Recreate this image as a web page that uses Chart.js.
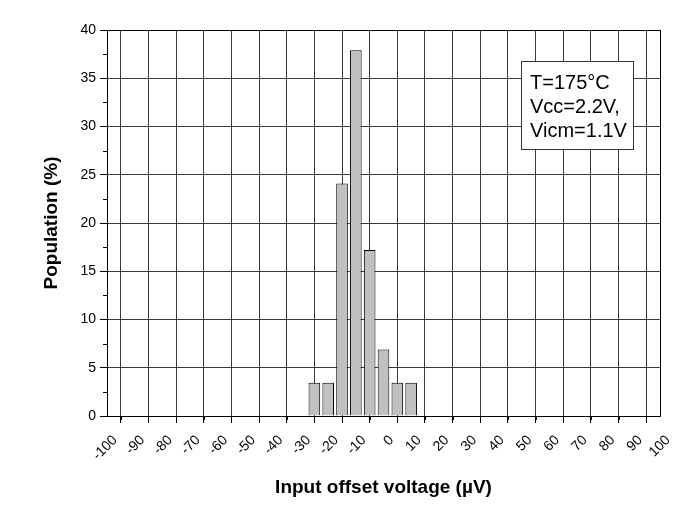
<!DOCTYPE html>
<html>
<head>
<meta charset="utf-8">
<script src="https://cdn.jsdelivr.net/npm/chart.js@4/dist/chart.umd.min.js"></script>
<style>
  html, body { margin: 0; padding: 0; background: #fff; }
  #wrap { width: 700px; height: 514px; }
</style>
</head>
<body>
<div id="wrap"><canvas id="chart" width="700" height="514"></canvas></div>
<script>
// histogram data
const binCenters = [-25, -20, -15, -10, -5, 0, 5, 10];
const population = [3.45, 3.45, 24.1, 37.9, 17.2, 6.9, 3.45, 3.45];
const noteLines = ["T=175°C", "Vcc=2.2V,", "Vicm=1.1V"];

const FONT = "'Liberation Sans', Arial, sans-serif";

// minor ticks + closing frame + condition box
const extras = {
  id: "extras",
  afterDraw(chart) {
    const ctx = chart.ctx;
    const a = chart.chartArea;
    const xs = chart.scales.x, ys = chart.scales.y;
    ctx.save();
    ctx.strokeStyle = "#000";
    ctx.lineWidth = 1;
    ctx.beginPath();
    for (let v = -95; v < 100; v += 10) {
      const px = Math.round(xs.getPixelForValue(v)) + 0.5;
      ctx.moveTo(px, a.bottom);
      ctx.lineTo(px, a.bottom + 4);
    }
    for (let v = 2.5; v < 40; v += 5) {
      const py = Math.round(ys.getPixelForValue(v)) + 0.5;
      ctx.moveTo(a.left, py);
      ctx.lineTo(a.left - 4, py);
    }
    ctx.stroke();
    ctx.strokeRect(Math.round(a.left) + 0.5, Math.round(a.top) + 0.5,
      Math.round(a.right - a.left), Math.round(a.bottom - a.top));

    // condition box
    ctx.fillStyle = "#fff";
    ctx.fillRect(521, 61, 112, 88);
    ctx.strokeStyle = "#333";
    ctx.strokeRect(521.5, 61.5, 112, 88);
    ctx.fillStyle = "#000";
    ctx.font = "20px " + FONT;
    ctx.textBaseline = "middle";
    noteLines.forEach((t, i) => ctx.fillText(t, 530, 83 + i * 24));
    ctx.restore();
  }
};

new Chart(document.getElementById("chart"), {
  type: "bar",
  data: {
    datasets: [{
      data: binCenters.map((x, i) => ({ x: x, y: population[i] })),
      backgroundColor: "#c0c0c0",
      borderColor: "#000",
      borderWidth: 1,
      barPercentage: 0.84,
      categoryPercentage: 1
    }]
  },
  options: {
    responsive: false,
    animation: false,
    layout: { padding: { top: 30, right: 40, left: 0, bottom: 0 } },
    plugins: { legend: { display: false }, tooltip: { enabled: false } },
    scales: {
      x: {
        type: "linear",
        min: -100, max: 100,
        offset: false,
        afterFit(s) { s.height = 98; },
        grid: { color: "#3a3a3a", tickColor: "#000", tickLength: 7, lineWidth: 1 },
        border: { color: "#000" },
        ticks: {
          stepSize: 10,
          autoSkip: false,
          minRotation: 45, maxRotation: 45,
          padding: 9,
          labelOffset: 8,
          color: "#000",
          font: { family: FONT, size: 14 }
        },
        title: {
          display: true,
          text: "Input offset voltage (µV)",
          color: "#000",
          font: { family: FONT, size: 19, weight: "bold" },
          padding: { top: 0, bottom: 15 }
        }
      },
      y: {
        min: 0, max: 40,
        afterFit(s) { s.width = 107; },
        grid: { color: "#3a3a3a", tickColor: "#000", tickLength: 7, lineWidth: 1 },
        border: { color: "#000" },
        ticks: {
          stepSize: 5,
          padding: 4,
          color: "#000",
          font: { family: FONT, size: 14 }
        },
        title: {
          display: true,
          text: "Population (%)",
          color: "#000",
          font: { family: FONT, size: 19, weight: "bold" },
          padding: { top: 40, bottom: 0 }
        }
      }
    }
  },
  plugins: [extras]
});
</script>
</body>
</html>
